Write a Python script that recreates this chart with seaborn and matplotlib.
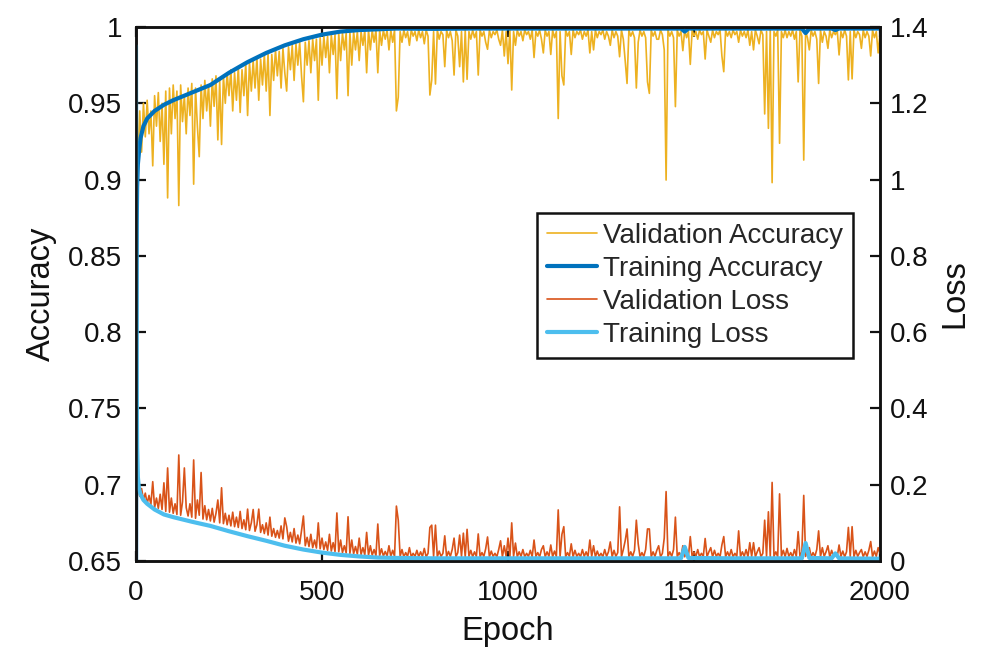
import matplotlib
matplotlib.use("Agg")
import matplotlib.pyplot as plt
import seaborn as sns
from matplotlib.ticker import FormatStrFormatter

# ---------------- data ----------------
val_epochs = list(range(0, 2001, 5))

val_acc_early = [
    0.925, 0.912, 0.945, 0.918, 0.950, 0.928, 0.952, 0.930, 0.945, 0.909,
    0.955, 0.935, 0.957, 0.925, 0.950, 0.910, 0.958, 0.888, 0.960, 0.930,
    0.962, 0.940, 0.958, 0.883, 0.962, 0.938, 0.955, 0.930, 0.960, 0.942,
    0.963, 0.897, 0.960, 0.935, 0.915, 0.962, 0.940, 0.965, 0.945, 0.962,
    0.935, 0.966, 0.948, 0.968, 0.926, 0.965, 0.923, 0.968, 0.950, 0.970,
    0.955, 0.972, 0.945, 0.970, 0.952, 0.974, 0.944, 0.972, 0.955, 0.976,
    0.942, 0.977, 0.958, 0.978, 0.960, 0.980, 0.952, 0.979, 0.962, 0.982,
    0.958, 0.983, 0.942, 0.982, 0.965, 0.985, 0.968, 0.984, 0.960, 0.986,
    0.970, 0.958, 0.987, 0.972, 0.988, 0.965, 0.989, 0.975, 0.990, 0.968,
    0.951, 0.990, 0.975, 0.991, 0.970, 0.992, 0.978, 0.992, 0.952, 0.993,
    0.975, 0.994, 0.980, 0.994, 0.970, 0.995, 0.982, 0.995, 0.953, 0.996,
    0.978, 0.996, 0.985, 0.996, 0.955, 0.997, 0.975, 0.997, 0.985, 0.997,
    0.978, 0.997, 0.988, 0.998, 0.970, 0.998, 0.985, 0.998, 0.990, 0.998,
    0.970, 0.998, 0.988, 0.998, 0.992, 0.998, 0.985, 0.998, 0.990, 0.998,
    0.945,
]
val_acc_late = [
    0.954, 0.997, 0.990, 0.998, 0.993, 0.997, 0.988, 0.998, 0.994, 0.997,
    0.991, 0.998, 0.993, 0.997, 0.989, 0.998, 0.994, 0.9554, 0.9653, 0.997,
    0.9626, 0.998, 0.992, 0.997, 0.995, 0.974, 0.998, 0.993, 0.997, 0.991,
    0.9685, 0.998, 0.994, 0.974, 0.997, 0.964, 0.998, 0.9657, 0.997, 0.992,
    0.998, 0.993, 0.997, 0.9685, 0.998, 0.994, 0.997, 0.990, 0.9854, 0.998,
    0.993, 0.997, 0.995, 0.998, 0.992, 0.988, 0.998, 0.981, 0.997, 0.976,
    0.998, 0.9587, 0.997, 0.988, 0.998, 0.994, 0.997, 0.991, 0.998, 0.995,
    0.997, 0.992, 0.998, 0.980, 0.997, 0.994, 0.998, 0.992, 0.983, 0.998,
    0.994, 0.997, 0.982, 0.998, 0.993, 0.997, 0.940, 0.997, 0.968, 0.962,
    0.998, 0.994, 0.997, 0.982, 0.998, 0.993, 0.997, 0.995, 0.998, 0.992,
    0.997, 0.994, 0.998, 0.983, 0.997, 0.985, 0.998, 0.993, 0.997, 0.995,
    0.998, 0.992, 0.997, 0.994, 0.988, 0.998, 0.993, 0.997, 0.994, 0.9805,
    0.998, 0.992, 0.978, 0.963, 0.998, 0.994, 0.997, 0.993, 0.960, 0.990,
    0.998, 0.994, 0.997, 0.993, 0.964, 0.9565, 0.998, 0.994, 0.997, 0.992,
    0.992, 0.998, 0.995, 0.985, 0.8997, 0.998, 0.994, 0.997, 0.993, 0.9478,
    0.998, 0.994, 0.997, 0.9845, 0.998, 0.993, 0.997, 0.9755, 0.998, 0.994,
    0.997, 0.992, 0.998, 0.995, 0.997, 0.979, 0.998, 0.994, 0.990, 0.998,
    0.993, 0.997, 0.995, 0.998, 0.981, 0.9707, 0.998, 0.994, 0.997, 0.993,
    0.998, 0.995, 0.997, 0.990, 0.998, 0.994, 0.997, 0.993, 0.998, 0.988,
    0.997, 0.985, 0.998, 0.994, 0.989, 0.998, 0.995, 0.943, 0.997, 0.9336,
    0.998, 0.898, 0.997, 0.994, 0.998, 0.9238, 0.997, 0.993, 0.998, 0.993,
    0.997, 0.994, 0.998, 0.992, 0.997, 0.964, 0.998, 0.994, 0.9128, 0.997,
    0.993, 0.985, 0.998, 0.994, 0.997, 0.992, 0.963, 0.998, 0.990, 0.997,
    0.994, 0.986, 0.998, 0.993, 0.997, 0.995, 0.998, 0.9817, 0.997, 0.993,
    0.998, 0.994, 0.9653, 0.997, 0.966, 0.998, 0.993, 0.997, 0.995, 0.986,
    0.998, 0.993, 0.997, 0.994, 0.981, 0.998, 0.993, 0.997, 0.983, 0.996,
]

val_loss_early = [
    0.205, 0.195, 0.170, 0.190, 0.160, 0.178, 0.150, 0.172, 0.148, 0.208,
    0.140, 0.165, 0.138, 0.175, 0.135, 0.205, 0.130, 0.244, 0.128, 0.165,
    0.125, 0.150, 0.122, 0.278, 0.120, 0.155, 0.244, 0.140, 0.118, 0.150,
    0.115, 0.265, 0.112, 0.160, 0.120, 0.232, 0.110, 0.145, 0.108, 0.135,
    0.105, 0.138, 0.102, 0.125, 0.160, 0.100, 0.192, 0.098, 0.125, 0.095,
    0.120, 0.092, 0.128, 0.090, 0.115, 0.088, 0.130, 0.085, 0.108, 0.082,
    0.136, 0.080, 0.100, 0.135, 0.078, 0.095, 0.136, 0.075, 0.095, 0.072,
    0.100, 0.068, 0.115, 0.065, 0.085, 0.062, 0.080, 0.060, 0.092, 0.058,
    0.113, 0.090, 0.052, 0.075, 0.050, 0.085, 0.047, 0.068, 0.045, 0.080,
    0.118, 0.040, 0.062, 0.038, 0.070, 0.035, 0.055, 0.034, 0.100, 0.032,
    0.060, 0.030, 0.050, 0.028, 0.070, 0.026, 0.048, 0.025, 0.126, 0.024,
    0.055, 0.022, 0.040, 0.021, 0.116, 0.020, 0.055, 0.019, 0.038, 0.018,
    0.060, 0.017, 0.035, 0.016, 0.075, 0.015, 0.040, 0.015, 0.030, 0.014,
    0.097, 0.014, 0.032, 0.013, 0.025, 0.013, 0.040, 0.012, 0.028, 0.012,
    0.144,
]
val_loss_late = [
    0.107, 0.012, 0.030, 0.011, 0.022, 0.012, 0.035, 0.011, 0.020, 0.012,
    0.028, 0.011, 0.024, 0.012, 0.033, 0.011, 0.020, 0.088, 0.094, 0.012,
    0.094, 0.011, 0.026, 0.012, 0.020, 0.066, 0.011, 0.025, 0.012, 0.030,
    0.060, 0.011, 0.022, 0.068, 0.012, 0.073, 0.011, 0.083, 0.012, 0.028,
    0.011, 0.024, 0.012, 0.071, 0.011, 0.022, 0.012, 0.032, 0.063, 0.011,
    0.026, 0.012, 0.020, 0.011, 0.030, 0.053, 0.011, 0.040, 0.012, 0.060,
    0.011, 0.100, 0.012, 0.047, 0.011, 0.024, 0.012, 0.030, 0.011, 0.020,
    0.012, 0.028, 0.011, 0.055, 0.012, 0.022, 0.011, 0.030, 0.040, 0.011,
    0.024, 0.012, 0.042, 0.011, 0.026, 0.012, 0.134, 0.012, 0.070, 0.090,
    0.011, 0.022, 0.012, 0.045, 0.011, 0.028, 0.012, 0.020, 0.011, 0.030,
    0.012, 0.024, 0.011, 0.055, 0.012, 0.040, 0.011, 0.026, 0.012, 0.020,
    0.011, 0.030, 0.012, 0.024, 0.050, 0.011, 0.028, 0.012, 0.022, 0.142,
    0.011, 0.030, 0.053, 0.084, 0.011, 0.024, 0.012, 0.028, 0.107, 0.045,
    0.011, 0.022, 0.012, 0.030, 0.084, 0.084, 0.011, 0.024, 0.012, 0.028,
    0.040, 0.011, 0.020, 0.060, 0.182, 0.011, 0.024, 0.012, 0.030, 0.115,
    0.011, 0.022, 0.012, 0.040, 0.011, 0.028, 0.012, 0.064, 0.011, 0.024,
    0.012, 0.030, 0.011, 0.020, 0.012, 0.059, 0.011, 0.024, 0.035, 0.011,
    0.028, 0.012, 0.020, 0.011, 0.042, 0.064, 0.011, 0.024, 0.012, 0.030,
    0.011, 0.020, 0.012, 0.079, 0.011, 0.024, 0.012, 0.030, 0.011, 0.048,
    0.012, 0.048, 0.011, 0.024, 0.035, 0.011, 0.020, 0.107, 0.012, 0.129,
    0.011, 0.206, 0.012, 0.024, 0.011, 0.176, 0.012, 0.028, 0.011, 0.033,
    0.012, 0.022, 0.011, 0.030, 0.012, 0.077, 0.011, 0.024, 0.172, 0.012,
    0.028, 0.035, 0.011, 0.022, 0.012, 0.030, 0.079, 0.011, 0.035, 0.012,
    0.024, 0.040, 0.011, 0.028, 0.012, 0.020, 0.011, 0.042, 0.012, 0.026,
    0.011, 0.024, 0.088, 0.012, 0.090, 0.011, 0.028, 0.012, 0.022, 0.030,
    0.011, 0.024, 0.012, 0.028, 0.051, 0.011, 0.026, 0.012, 0.035, 0.020,
]

train_epochs = [0, 1, 2, 3, 5, 8, 12, 20, 30, 50, 75, 100, 150, 200, 250, 300,
                350, 400, 450, 500, 550, 600, 650, 700, 800, 900, 1000, 1100,
                1200, 1300, 1400, 1465, 1475, 1485, 1600, 1700, 1790, 1800,
                1810, 1870, 1880, 1890, 2000]
train_acc = [0.60, 0.80, 0.87, 0.895, 0.910, 0.918, 0.927, 0.935, 0.940, 0.945,
             0.949, 0.952, 0.957, 0.962, 0.970, 0.977, 0.983, 0.988, 0.992,
             0.995, 0.997, 0.998, 0.9985, 0.999, 0.9988, 0.999, 0.999, 0.999,
             0.999, 0.999, 0.999, 0.999, 0.997, 0.999, 0.999, 0.999, 0.999,
             0.996, 0.999, 0.999, 0.998, 0.999, 0.999]
train_loss = [1.35, 0.80, 0.45, 0.30, 0.22, 0.19, 0.175, 0.16, 0.15, 0.135,
              0.122, 0.115, 0.103, 0.092, 0.078, 0.065, 0.053, 0.040, 0.030,
              0.022, 0.016, 0.012, 0.009, 0.008, 0.007, 0.007, 0.007, 0.007,
              0.007, 0.007, 0.007, 0.007, 0.037, 0.008, 0.007, 0.007, 0.007,
              0.047, 0.008, 0.007, 0.020, 0.007, 0.006]

val_acc = val_acc_early + val_acc_late
val_loss = val_loss_early + val_loss_late
assert len(val_acc) == len(val_epochs), len(val_acc)
assert len(val_loss) == len(val_epochs), len(val_loss)
assert len(train_acc) == len(train_epochs) == len(train_loss)

acc_ticks = [0.65, 0.7, 0.75, 0.8, 0.85, 0.9, 0.95, 1.0]
loss_ticks = [0, 0.2, 0.4, 0.6, 0.8, 1.0, 1.2, 1.4]
epoch_ticks = [0, 500, 1000, 1500, 2000]

# ---------------- style ----------------
sns.set_theme(style="white")
plt.rcParams['font.family'] = ['Liberation Sans', 'DejaVu Sans']
plt.rcParams['axes.linewidth'] = 1.8
plt.rcParams['xtick.direction'] = 'in'
plt.rcParams['ytick.direction'] = 'in'

C_VACC = '#EDB120'
C_TACC = '#0072BD'
C_VLOSS = '#D95319'
C_TLOSS = '#4DBEEE'
INK = '#111111'

fig = plt.figure(figsize=(9.88, 6.52), dpi=100)
ax = fig.add_axes([136 / 988, 1 - 561 / 652, (880 - 136) / 988, (561 - 27) / 652])
ax2 = ax.twinx()

sns.lineplot(x=val_epochs, y=val_acc, ax=ax, color=C_VACC, lw=1.2,
             estimator=None, sort=False, label='Validation Accuracy', legend=False)
sns.lineplot(x=train_epochs, y=train_acc, ax=ax, color=C_TACC, lw=3.0,
             estimator=None, sort=False, label='Training Accuracy', legend=False)
sns.lineplot(x=val_epochs, y=val_loss, ax=ax2, color=C_VLOSS, lw=1.2,
             estimator=None, sort=False, label='Validation Loss', legend=False)
sns.lineplot(x=train_epochs, y=train_loss, ax=ax2, color=C_TLOSS, lw=3.0,
             estimator=None, sort=False, label='Training Loss', legend=False)

ax.set_xlim(0, 2000)
ax.set_ylim(0.65, 1.0)
ax2.set_ylim(0, 1.4)
ax.set_xticks(epoch_ticks)
ax.set_yticks(acc_ticks)
ax2.set_yticks(loss_ticks)
ax.yaxis.set_major_formatter(FormatStrFormatter('%g'))
ax2.yaxis.set_major_formatter(FormatStrFormatter('%g'))

tick_fs = 20
lab_fs = 23.5
ax.tick_params(axis='x', which='both', top=True, bottom=True, length=7, width=1.6,
               labelsize=tick_fs, pad=14, colors=INK)
ax.tick_params(axis='y', left=True, right=False, length=7, width=1.6,
               labelsize=tick_fs, pad=10, colors=INK)
ax2.tick_params(axis='y', right=True, left=False, length=7, width=1.6,
                labelsize=tick_fs, pad=7, colors=INK)
ax2.tick_params(axis='x', top=False, bottom=False)

for a in (ax, ax2):
    for s in a.spines.values():
        s.set_color(INK)
        s.set_linewidth(1.8)

ax.set_xlabel('Epoch', fontsize=lab_fs, labelpad=7, color=INK)
ax.set_ylabel('Accuracy', fontsize=lab_fs, labelpad=8, color=INK)
ax2.set_ylabel('Loss', fontsize=lab_fs, labelpad=8, color=INK, rotation=90)

h1, l1 = ax.get_legend_handles_labels()
h2, l2 = ax2.get_legend_handles_labels()
leg = ax2.legend(h1 + h2, l1 + l2, loc='upper right', bbox_to_anchor=(0.964, 0.652),
                 fontsize=tick_fs, frameon=True, fancybox=False, framealpha=1,
                 edgecolor=INK, handlelength=1.8, handletextpad=0.25,
                 labelspacing=0.26, borderpad=0.35, borderaxespad=0)
leg.get_frame().set_linewidth(1.8)
leg.set_zorder(10)

fig.savefig('out.png', dpi=100)
